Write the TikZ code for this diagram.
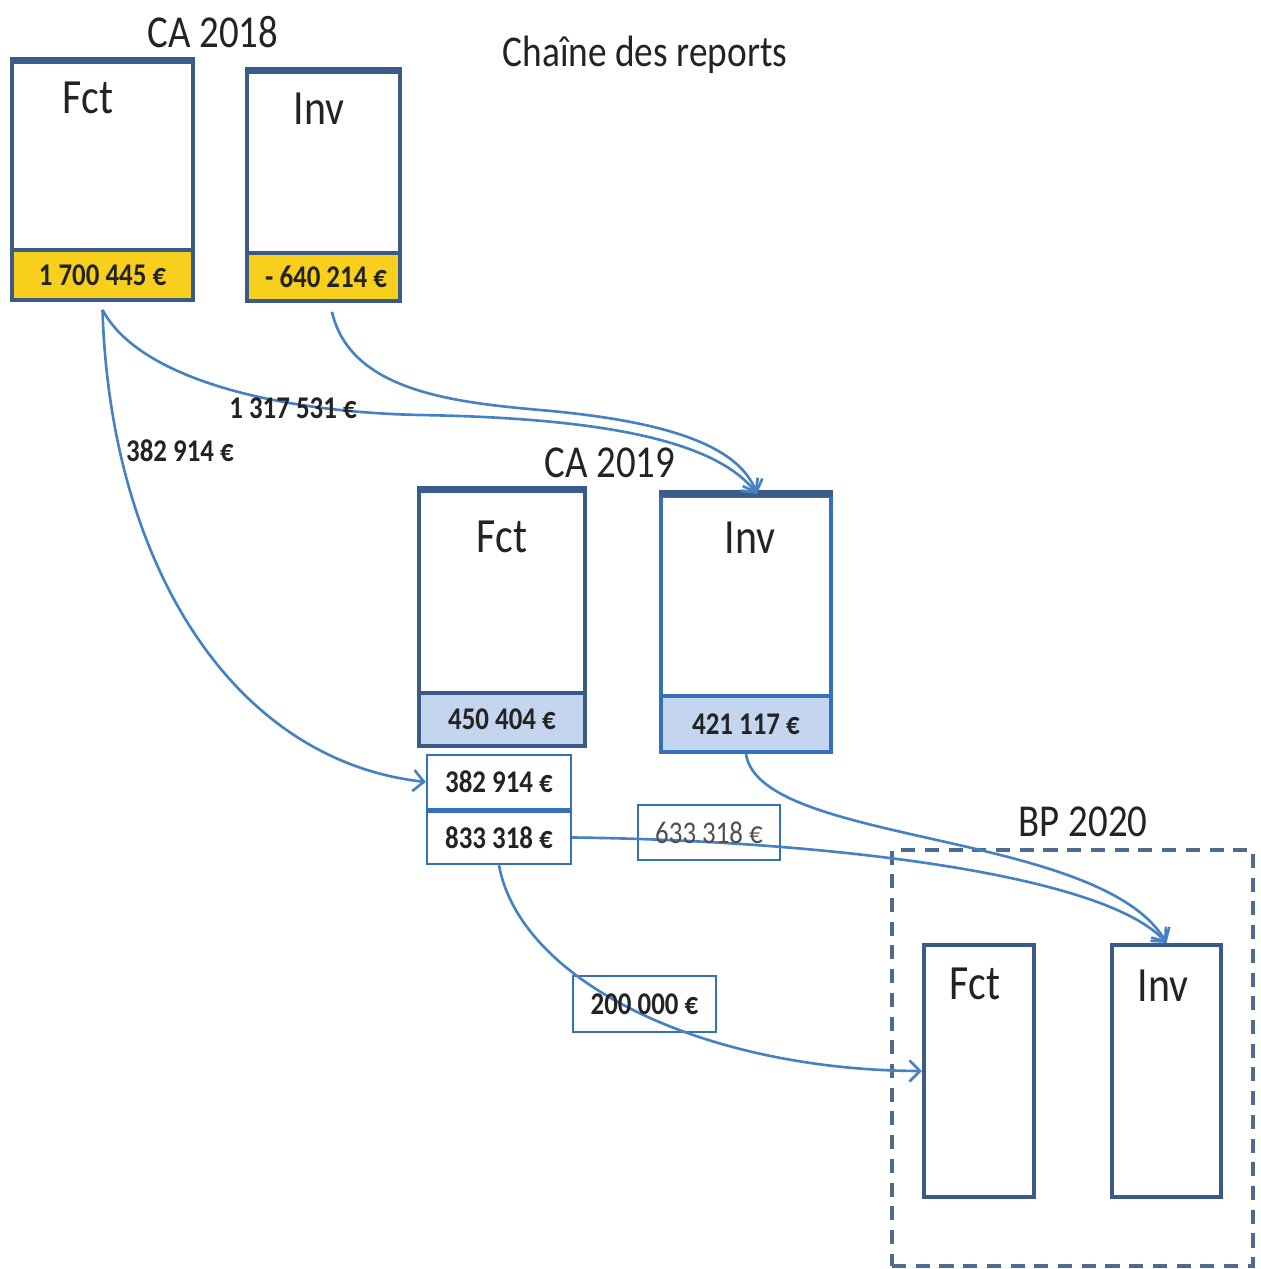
\documentclass[tikz,border=0pt]{standalone}
\usepackage{fontspec}
\setmainfont{Carlito}[FakeStretch=0.85]
\usetikzlibrary{arrows.meta}
\definecolor{boxc}{HTML}{3B5A85}
\definecolor{topc}{HTML}{3A5C8A}
\definecolor{flow}{HTML}{4682C2}
\definecolor{gold}{HTML}{F9CF1E}
\definecolor{pale}{HTML}{C3D5EF}
\definecolor{brightc}{HTML}{3570B8}
\definecolor{ink}{HTML}{232323}
\definecolor{dashc}{HTML}{4D6A8F}
\begin{document}
\begin{tikzpicture}[x=0.02cm,y=-0.02cm,
  sz/.style 2 args={minimum width=#1*0.02cm, minimum height=#2*0.02cm, inner sep=0pt},
  frame/.style={draw=boxc, line width=2.1pt, fill=white},
  topedge/.style={draw=topc, line width=4pt},
  band/.style={draw=boxc, line width=2.1pt, text=ink, font=\bfseries\fontsize{18}{20}\selectfont},
  amount/.style={draw=brightc, line width=1.4pt, fill=white, text=ink, font=\bfseries\fontsize{18}{20}\selectfont},
  title/.style={text=ink, font=\fontsize{26}{30}\selectfont},
  boxlabel/.style={text=ink, font=\fontsize{28}{32}\selectfont},
  flowlabel/.style={text=ink, font=\bfseries\fontsize{18}{20}\selectfont},
  flowarrow/.style={draw=flow, line width=1.5pt, -{Straight Barb[length=6pt,width=12pt,line width=1.5pt]}}]

\useasboundingbox (0,0) rectangle (1261,1269);

% --- CA 2018 ---
\node[title] (t18) at (213,32) {CA 2018};
\node[title, font=\fontsize{25}{30}\selectfont] (chain) at (645,55) {Chaîne des reports};

\node[frame, sz={181}{238}] (fct18) at (102.5,181) {};
\node[band, fill=gold, sz={181}{50}] (fct18b) at (102.5,275) {1 700 445 €};
\draw[topedge] (fct18.north west) -- (fct18.north east);
\node[boxlabel] (fct18l) at (88,98) {Fct};

\node[frame, sz={153}{229}] (inv18) at (323.5,186.5) {};
\node[band, fill=gold, sz={153}{48}] (inv18b) at (323.5,277) {\,- 640 214 €};
\draw[topedge] (inv18.north west) -- (inv18.north east);
\node[boxlabel] (inv18l) at (319,109) {Inv};

% --- CA 2019 ---
\node[title] (t19) at (610,463) {CA 2019};

\node[frame, sz={166}{255}] (fct19) at (502,618.5) {};
\node[band, fill=pale, sz={166}{53}] (fct19b) at (502,719.5) {450 404 €};
\draw[topedge] (fct19.north west) -- (fct19.north east);
\node[boxlabel] (fct19l) at (502,537) {Fct};

\node[frame, draw=brightc, line width=2.4pt, sz={170}{256}] (inv19) at (746,624) {};
\node[band, draw=brightc, line width=2.4pt, fill=pale, sz={170}{56}] (inv19b) at (746,724) {421 117 €};
\draw[topedge] (inv19.north west) -- (inv19.north east);
\node[boxlabel] (inv19l) at (750,538) {Inv};

\node[amount, sz={144}{54}] (r382) at (499,782) {382 914 €};
\node[amount, sz={144}{53}] (r833) at (499,837.5) {833 318 €};
\draw[draw=brightc, line width=2.6pt] (r382.south west) -- (r382.south east);

\node[amount, sz={142}{55}] (r633) at (709,832.5) {};
\node[amount, sz={143}{56}] (r200) at (644.5,1004) {};

% --- BP 2020 ---
\node[title] (t20) at (1083,822) {BP 2020};
\node[draw=dashc, line width=2.2pt, dash pattern=on 8pt off 5.5pt, sz={361}{416}] (bp) at (1072.5,1058) {};
\node[draw=boxc, line width=2.4pt, fill=white, sz={110}{252}] (fct20) at (979,1071) {};
\node[boxlabel] (fct20l) at (975,984) {Fct};
\node[draw=boxc, line width=2.4pt, fill=white, sz={109}{252}] (inv20) at (1166.5,1071) {};
\node[boxlabel] (inv20l) at (1163,986) {Inv};

% --- flows ---
\coordinate (o18f) at ([yshift=-0.16cm]fct18b.south);
\coordinate (o18i) at ([xshift=0.17cm, yshift=-0.18cm]inv18b.south);
\coordinate (in19) at ([xshift=0.22cm]inv19.north);
\coordinate (m1) at (420,415);
\coordinate (m2) at (540,410);

\draw[flowarrow] (o18f) .. controls (110,560) and (230,760) .. (r382.west);
\draw[flowarrow] (o18f) .. controls (140,380) and (280,412) .. (m1)
                        .. controls (600,418) and (715,440) .. (in19);
\draw[flowarrow] (o18i) .. controls (350,390) and (450,402) .. (m2)
                        .. controls (680,422) and (740,450) .. (in19);

\draw[flowarrow] (r833.east) .. controls (800,840) and (1100,870) .. (inv20.north);
\draw[flowarrow] (inv19b.south) .. controls (760,845) and (1100,830) .. (inv20.north);
\draw[flowarrow] (r833.south) .. controls (520,980) and (700,1070) .. (fct20.west);

% amounts written over the flow lines
\node[flowlabel] (l1317) at (293,408) {1 317 531 €};
\node[flowlabel] (l382) at (180,451) {382 914 €};
\node[font=\fontsize{18}{20}\selectfont, text=ink!80] (t633) at (r633) {633 318 €};
\node[flowlabel] (t200) at (r200) {200 000 €};

\end{tikzpicture}
\end{document}
